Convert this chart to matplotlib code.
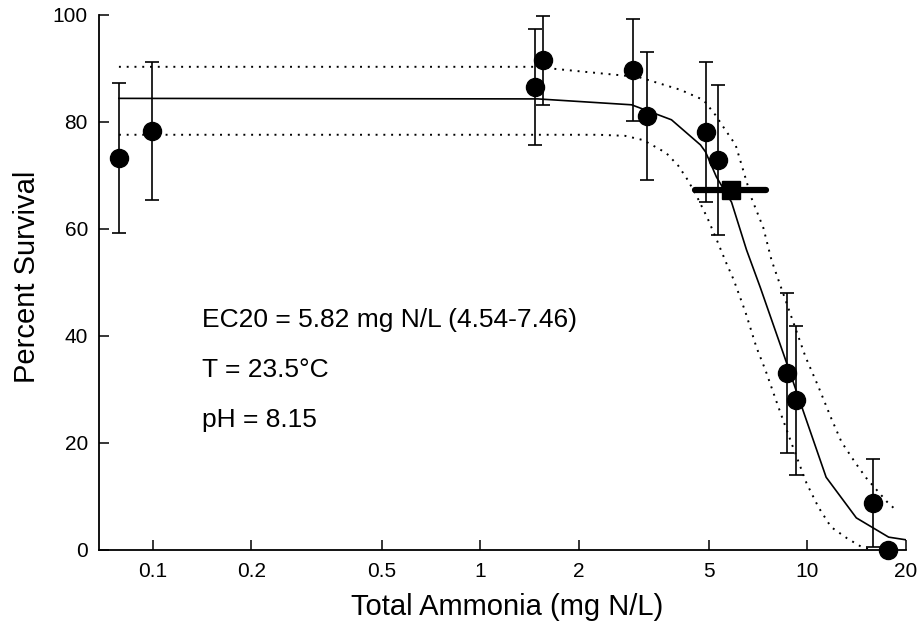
import matplotlib
matplotlib.use('Agg')
import matplotlib.pyplot as plt
from matplotlib.ticker import FixedLocator, FixedFormatter, NullLocator

plt.rcParams['font.family'] = ['Liberation Sans', 'DejaVu Sans']

# Observed data: concentration (mg N/L), percent survival, error
conc = [0.0787, 0.0993, 1.47, 1.56, 2.92, 3.24, 4.91, 5.31, 8.63, 9.24, 15.8, 17.6]
survival = [73.3, 78.3, 86.5, 91.5, 89.7, 81.1, 78.1, 72.9, 33.1, 28.0, 8.8, 0.0]
err = [14.0, 12.9, 10.9, 8.3, 9.5, 12.0, 13.1, 14.0, 15.0, 13.9, 8.2, 0.0]

# Fitted curve (solid)
fit_x = [0.0787, 1.50, 2.90, 3.84, 4.71, 4.88, 5.27, 5.86, 6.51, 7.18, 8.45, 11.4, 14.1, 17.7, 20.0]
fit_y = [84.4, 84.3, 83.2, 80.4, 75.7, 74.4, 69.7, 65.0, 56.1, 49.0, 36.6, 13.6, 6.0, 2.4, 1.9]

# Upper 95% confidence band (dotted)
upper_x = [0.0787, 1.50, 1.70, 2.14, 3.04, 4.09, 4.81, 5.23, 5.61, 6.03, 6.33, 6.74, 7.33,
           7.76, 8.33, 9.86, 10.8, 11.8, 12.7, 14.0, 15.1, 17.5, 18.6]
upper_y = [90.3, 90.3, 89.9, 89.3, 88.4, 86.0, 84.1, 81.3, 78.5, 75.7, 71.4, 65.8, 60.2,
           54.2, 48.8, 36.1, 30.5, 24.7, 20.2, 16.3, 13.5, 9.0, 7.5]

# Lower 95% confidence band (dotted)
lower_x = [0.0787, 2.30, 2.77, 3.15, 3.70, 4.03, 4.30, 4.58, 4.95, 5.31, 5.65, 5.94, 6.46,
           6.98, 7.44, 8.15, 8.93, 9.93, 10.8, 11.8, 13.2, 14.6, 15.9]
lower_y = [77.6, 77.6, 77.4, 76.6, 74.2, 71.8, 69.2, 66.2, 62.0, 57.6, 53.6, 50.6, 44.5,
           37.9, 33.6, 26.7, 20.0, 12.5, 8.0, 4.3, 2.2, 0.6, 0.0]

# EC20 estimate and its confidence interval
ec20 = 5.82
ec20_lo = 4.54
ec20_hi = 7.46
ec20_y = 67.3

x_ticks = [0.1, 0.2, 0.5, 1, 2, 5, 10, 20]
x_tick_labels = ['0.1', '0.2', '0.5', '1', '2', '5', '10', '20']
y_ticks = [0, 20, 40, 60, 80, 100]

notes = ['EC20 = 5.82 mg N/L (4.54-7.46)', 'T = 23.5\u00b0C', 'pH = 8.15']
note_y = [41.7, 32.4, 23.0]

fig = plt.figure(figsize=(9.2, 6.37), dpi=100)
ax = fig.add_axes([0.1076, 0.1366, 0.8772, 0.84])
ax.set_xscale('log')
ax.set_xlim(0.0684, 20)
ax.set_ylim(0, 100)

ax.plot(fit_x, fit_y, color='black', lw=1.2, zorder=2)
ax.plot(upper_x, upper_y, color='black', lw=1.4, linestyle=(0, (1, 3.0)), zorder=2)
ax.plot(lower_x, lower_y, color='black', lw=1.4, linestyle=(0, (1, 3.0)), zorder=2)

ax.errorbar(conc, survival, yerr=err, fmt='o', color='black', ms=13, elinewidth=1.2,
            capsize=5, capthick=1.2, zorder=3, clip_on=False)

ax.plot([ec20_lo, ec20_hi], [ec20_y, ec20_y], color='black', lw=4.5,
        solid_capstyle='round', zorder=4)
ax.plot([ec20], [ec20_y], marker='s', color='black', ms=13.5, zorder=5)

for t, yv in zip(notes, note_y):
    ax.text(0.141, yv, t, fontsize=19, va='baseline', ha='left')

ax.xaxis.set_major_locator(FixedLocator(x_ticks))
ax.xaxis.set_major_formatter(FixedFormatter(x_tick_labels))
ax.xaxis.set_minor_locator(NullLocator())
ax.set_yticks(y_ticks)

ax.spines['top'].set_visible(False)
ax.spines['right'].set_visible(False)
ax.spines['left'].set_linewidth(1.3)
ax.spines['bottom'].set_linewidth(1.3)
ax.tick_params(axis='both', direction='in', length=7, width=1.1, labelsize=15)
ax.tick_params(axis='x', pad=9)
ax.tick_params(axis='y', pad=8)

ax.set_xlabel('Total Ammonia (mg N/L)', fontsize=21)
ax.set_ylabel('Percent Survival', fontsize=21)
ax.xaxis.set_label_coords(0.506, -0.080)
ax.yaxis.set_label_coords(-0.072, 0.51)

fig.savefig('out.png', dpi=100)
